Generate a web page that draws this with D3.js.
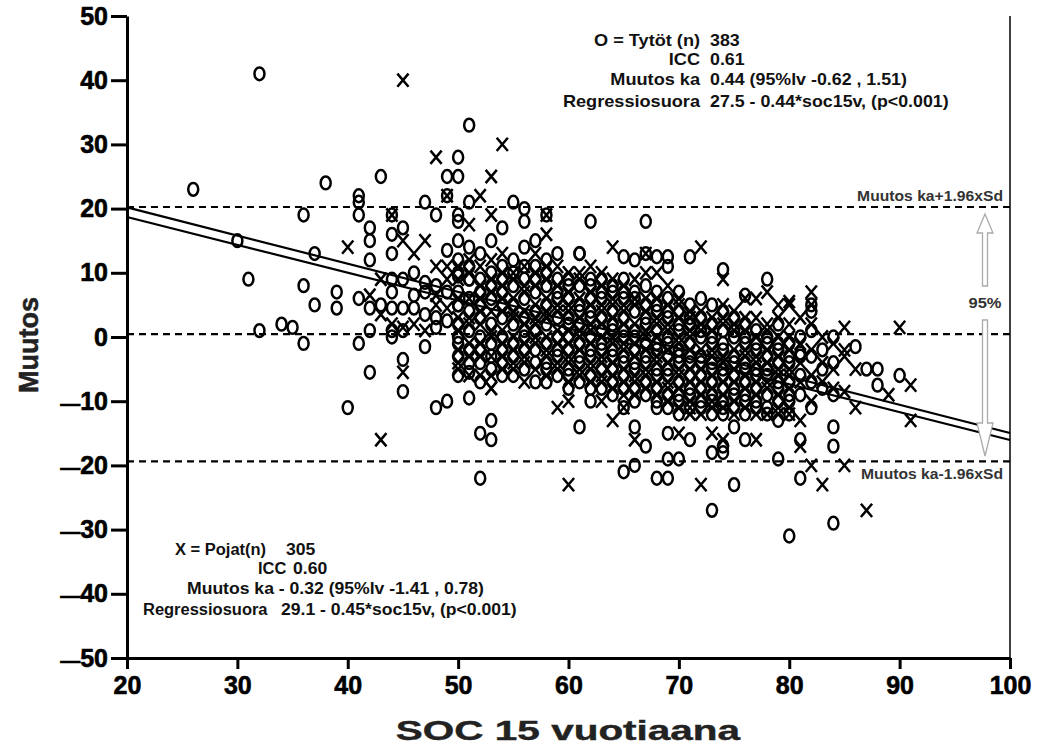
<!DOCTYPE html>
<html><head><meta charset="utf-8">
<script src="https://cdn.jsdelivr.net/npm/d3@7"></script>
<style>
body{margin:0;background:#fff;}
text{font-family:"Liberation Sans",Arial,sans-serif;font-weight:bold;}
</style></head><body>
<svg id="c" width="1038" height="748"></svg>
<script>
const xTicks=[20,30,40,50,60,70,80,90,100];
const yTicks=[-50,-40,-30,-20,-10,0,10,20,30,40,50];
const limits=[20.25,0.44,-19.37];
// regression lines as drawn: [x, y] end points
const lineBoys=[[20,20.2],[100,-14.95]];
const lineGirls=[[20,18.7],[100,-16.05]];
const girlsLabels=["O = Tytöt (n)","ICC","Muutos ka","Regressiosuora"];
const girlsValues=["383","0.61","0.44 (95%lv -0.62 , 1.51)","27.5 - 0.44*soc15v, (p<0.001)"];
const boysLabels=["X = Pojat(n)","ICC","Muutos ka - 0.32 (95%lv -1.41 , 0.78)","Regressiosuora"];
const boysValues=["305","0.60","","29.1 - 0.45*soc15v, (p<0.001)"];

// individual points outside the dense core [SOC, change]
const girlsOuter=[
[26,23],[30,15],[31,9],[32,41],[32,1],[34,2],[35,1.5],[36,-1],[36,8],[36,19],[37,13],[37,5],[38,24],[39,7],[39,4.5],[40,-11],
[41,22],[41,21],[41,19],[41,6],[41,-1],[42,17],[42,15],[42,12],[42,4.5],[42,1],[42,-5.5],[43,25],[43,5],
[44,19],[44,16],[44,13],[44,9],[44,7],[44,4.5],[44,1],[44,0],[45,17],[45,9],[45,4.5],[45,1],[45,-3.5],[45,-8.5],
[46,10],[46,6.5],[46,4.5],[47,21],[47,8.5],[47,7],[47,3.5],[47,-1.5],[48,19],[48,1.5],[48,-11],[48,8],[48,3],
[49,25],[49,22],[49,13.5],[49,2.5],[49,-10],[49,7],[50,28],[50,25],[50,19],[50,18],[50,15],[50,9.5],[50,5],
[51,33],[51,21],[51,9],[51,-5.5],[51,-9.5],
[53,-13],[52,-15],[53,-16],[52,-22],[61,-14],[66,-14],[67,-17],[65,-21],[66,-20],[68,-22],[69,-22],[69,-19],[70,-19],[69,-15],
[75,-23],[73,-27],[73,-18],[74,-18],[75,-14],[76,-16],[74,-17],[68,-11],[73,-10],[74,-11],[71,-16],[84,-14],[84,-17],[79,-19],
[81,-22],[84,-29],[80,-31],[82,-11],[78,9],[86,-1.5],[87,-5],[88,-5],[88,-7.5],[90,-6],[62,18],[67,18],[55,21],[56,20],[58,19],
[56,18],[54,17],[61,13],[67,13],[65,12.5],[66,12],[68,12.5],[69,12.5],[69,11],[71,12.5],[74,10.5],[76,6.5],[82,5],[81,-2.5],[81,-16],
[62,-10],[65,-11]
];
const boysOuter=[
[40,14],[42,6.5],[43,3.5],[43,9],[43,-16],[44,19],[44,2],[45,40],[45,15],[45,1.5],[45,-5.5],[46,13],[47,15],[48,28],[48,11],
[48,6.5],[48,5],[49,22],[49,11],[49,9],[49,4.5],[47,1],[46,2],
[53,-8],[59,-11],[60,-10],[63,-10],[64,-13],[65,-11],[60,-23],[66,-16],[70,-15],[72,-23],[73,-15],[74,-16],[69,-10],[70,-11],[71,-11],
[86,-11],[91,-13],[89,-9],[81,-17],[82,-20],[85,-20],[83,-23],[87,-27],[77,-16],[80,5.5],[85,1.5],[90,1.5],
[85,-2],[85,-3],[86,-5],[91,-7.5],[85,-8.5],[54,30],[53,25],[52,22],[53,19],[58,19],[51,17.5],[64,14],[67,13],[72,14],[74,9]
];
// dense core, per SOC value: list of change values
const girlsCore=[
[50,[12,10,7,5,2,0,-1,-3,-6]],[51,[14,11,9,6,4,1,-2,-4]],[52,[13,9,7,5,3,0,-2,-4,-7]],[53,[15,10,8,6,2,-1,-3,-5]],
[54,[11,9,7,5,3,0,-2,-4,-6]],[55,[12,10,8,5,2,-1,-3,-6]],[56,[14,11,9,6,3,1,0,-2,-5]],[57,[15,11,9,7,4,1,-2,-4,-7]],
[58,[12,10,8,5,2,-1,-4,-5,-7]],[59,[13,9,7,6,3,0,-2,-3,-6]],[60,[9,8,6,3,2,0,-2,-5,-6,-8]],[61,[13,8,5,4,2,-1,-3,-4,-7]],
[62,[9,8,6,4,3,0,-2,-3,-6,-8]],[63,[9,7,6,3,1,-1,-2,-5,-8]],[64,[8,7,4,2,1,-2,-3,-5,-7,-9]],[65,[9,7,6,3,1,0,-3,-4,-6,-8]],
[66,[7,6,4,1,0,-2,-4,-5,-8,-10]],[67,[8,5,3,2,-1,-3,-4,-7,-9]],[68,[7,5,4,1,-1,-2,-5,-6,-8,-10]],[69,[6,4,3,0,-1,-3,-5,-6,-9,-11]],
[70,[7,4,2,1,-2,-3,-4,-7,-9,-10,-12]],[71,[5,3,2,-1,-3,-4,-6,-8,-9,-11]],[72,[6,3,1,0,-3,-4,-6,-8,-10,-11]],[73,[5,2,0,-1,-4,-5,-7,-9,-12]],
[74,[4,1,-1,-2,-5,-6,-8,-10,-12]],[75,[3,1,0,-3,-4,-6,-8,-9,-11]],[76,[2,0,-1,-4,-5,-7,-9,-10,-12]],[77,[1,-1,-2,-5,-6,-8,-10,-11]],
[78,[0,-1,-3,-5,-6,-9,-11,-12]],[79,[2,-1,-2,-4,-7,-8,-10,-13]],[80,[-1,-3,-4,-7,-9,-10,-12]],[81,[0,-3,-6,-9]],
[82,[4,1,-3,-7]],[83,[-2,-5,-8]],[84,[0,-4,-9]]
];
const boysCore=[
[50,[11,9,6,3,1,-2,-4,-5]],[51,[12,10,6,3,2,-1,-3,-6]],[52,[11,8,6,4,2,-1,-3,-6]],[53,[12,9,7,4,1,0,-3,-6,-8]],
[54,[13,10,8,6,4,1,-1,-3,-5]],[55,[10,9,6,4,3,0,-2,-4,-5]],[56,[11,8,7,4,2,-1,-3,-4,-7]],[57,[13,10,8,5,3,2,0,-1,-5]],
[58,[16,11,9,6,4,3,0,-2,-3,-6]],[59,[11,8,5,4,1,-1,-4,-5]],[60,[10,7,5,4,1,-1,-3,-4,-7]],[61,[10,9,6,3,1,0,-2,-5,-6]],
[62,[11,7,5,2,1,-1,-4,-5,-7]],[63,[10,8,5,4,2,0,-3,-4,-6,-7]],[64,[9,6,5,3,0,-1,-4,-6,-8]],[65,[8,5,4,2,-1,-2,-5,-7,-9]],
[66,[9,6,5,2,-1,-3,-6,-7,-9]],[67,[10,6,4,1,0,-2,-5,-6,-8]],[68,[10,6,3,2,0,-3,-4,-7,-9]],[69,[8,5,2,1,-2,-4,-7,-8,-10]],
[70,[6,5,3,0,-1,-5,-6,-8,-11]],[71,[4,3,1,0,-2,-5,-7,-10,-12]],[72,[4,2,1,-2,-5,-7,-9,-12]],[73,[3,1,-2,-3,-6,-8,-10,-11]],
[74,[5,3,2,-3,-4,-7,-9,-11]],[75,[4,2,1,-2,-5,-7,-10,-12]],[76,[6,3,1,-2,-3,-6,-8,-11]],[77,[6,3,0,-3,-4,-7,-9,-12]],
[78,[7,2,1,-2,-4,-7,-8,-12]],[79,[5,3,0,-3,-5,-6,-9,-11,-12]],[80,[5,2,0,-2,-5,-6,-8,-11,-12]],[81,[3,-1,-4,-7,-13]],
[82,[7,5,2,-2,-6,-10]],[83,[0,-4,-7]],[84,[-1,-5,-8]]
];
const girls=girlsOuter.concat(girlsCore.flatMap(c=>c[1].map(v=>[c[0],v])));
const boys=boysOuter.concat(boysCore.flatMap(c=>c[1].map(v=>[c[0],v])));

const svg=d3.select("#c");
const x=d3.scaleLinear().domain([20,100]).range([127,1010]);
const y=d3.scaleLinear().domain([-50,50]).range([658,16]);

function txt(g,s,px,py,size,anchor,sx,fill){
  return g.append("text").attr("transform",`translate(${px},${py}) scale(${sx},1)`)
   .attr("text-anchor",anchor).style("font-size",size+"px").attr("fill",fill||"#111").text(s);
}

svg.append("g").selectAll("line").data(limits).join("line")
 .attr("x1",x(20)).attr("x2",x(100)).attr("y1",d=>y(d)).attr("y2",d=>y(d))
 .attr("stroke","#000").attr("stroke-width",2.2).attr("stroke-dasharray","7,5");

[lineBoys,lineGirls].forEach(l=>{
  svg.append("line").attr("x1",x(l[0][0])).attr("x2",x(l[1][0]))
   .attr("y1",y(l[0][1])).attr("y2",y(l[1][1]))
   .attr("stroke","#000").attr("stroke-width",2.2);
});

const mk=svg.append("g");
mk.selectAll("ellipse").data(girls).join("ellipse")
 .attr("cx",d=>x(d[0])).attr("cy",d=>y(d[1])).attr("rx",5).attr("ry",6.4)
 .attr("fill","none").attr("stroke","#000").attr("stroke-width",2.5);
mk.selectAll("path").data(boys).join("path")
 .attr("d",d=>{const cx=x(d[0]),cy=y(d[1]);return `M${cx-5.6},${cy-6.6}L${cx+5.6},${cy+6.6}M${cx+5.6},${cy-6.6}L${cx-5.6},${cy+6.6}`;})
 .attr("stroke","#000").attr("stroke-width",2.5).attr("fill","none");

svg.append("line").attr("x1",x(100)).attr("x2",x(100)).attr("y1",y(50)).attr("y2",y(-50)).attr("stroke","#000").attr("stroke-width",1.5);

const ax=svg.append("g").attr("transform",`translate(0,${y(-50)})`)
 .call(d3.axisBottom(x).tickValues(xTicks).tickSize(11).tickSizeOuter(0).tickPadding(7));
const ay=svg.append("g").attr("transform",`translate(${x(20)},0)`)
 .call(d3.axisLeft(y).tickValues(yTicks).tickSize(16).tickSizeOuter(0).tickPadding(3).tickFormat(d=>Math.abs(d)));
[ax,ay].forEach(a=>{
  a.select(".domain").attr("stroke","#000").attr("stroke-width",3);
  a.selectAll(".tick line").attr("stroke","#000").attr("stroke-width",3);
  a.selectAll(".tick text").attr("fill","#000").attr("stroke","#000").attr("stroke-width",0.6)
   .style("font-size","25px").style("font-family","'Liberation Sans',Arial,sans-serif").style("font-weight","bold");
});
ay.selectAll(".tick").filter(d=>d<0).select("text").each(function(d){
  const t=d3.select(this); const v=Math.abs(d); t.text("");
  t.append("tspan").style("font-size","20px").text("\u2014");
  t.append("tspan").text(v);
});

txt(svg,"SOC 15 vuotiaana",568,740,27,"middle",1.5,"#222").attr("stroke","#222").attr("stroke-width",0.4);
svg.append("text").attr("transform","translate(38,345) rotate(-90)").attr("text-anchor","middle")
 .style("font-size","27px").attr("fill","#222").attr("stroke","#222").attr("stroke-width",0.5).text("Muutos");

const gy=[46,65,85,107];
girlsLabels.forEach((s,i)=>{
  txt(svg,s,700,gy[i],16.5,"end",1.1,"#111");
  txt(svg,girlsValues[i],710,gy[i],16.5,"start",1.08,"#111");
});
const by=[555,574,594,615];
const blx=[175,258,187,143], bvx=[286,293,0,281];
boysLabels.forEach((s,i)=>{
  txt(svg,s,blx[i],by[i],16,"start",i==2?1.1:1.03,"#111");
  if(boysValues[i]) txt(svg,boysValues[i],bvx[i],by[i],16,"start",1.1,"#111");
});

txt(svg,"Muutos ka+1.96xSd",1003,201,14,"end",1.12,"#333");
txt(svg,"Muutos ka-1.96xSd",1003,479,14,"end",1.12,"#333");

const a0=985;
const arrow=svg.append("g").attr("fill","#fff").attr("stroke","#aaa").attr("stroke-width",1.3);
arrow.append("path").attr("d",`M${a0},214 L${a0+8},233 L${a0+2.5},233 L${a0+2.5},286 L${a0-2.5},286 L${a0-2.5},233 L${a0-8},233 Z`);
arrow.append("path").attr("d",`M${a0},456 L${a0+8},423 L${a0+2.5},423 L${a0+2.5},320 L${a0-2.5},320 L${a0-2.5},423 L${a0-8},423 Z`);
txt(svg,"95%",a0,308,15,"middle",1.1,"#333");
</script>
</body></html>
